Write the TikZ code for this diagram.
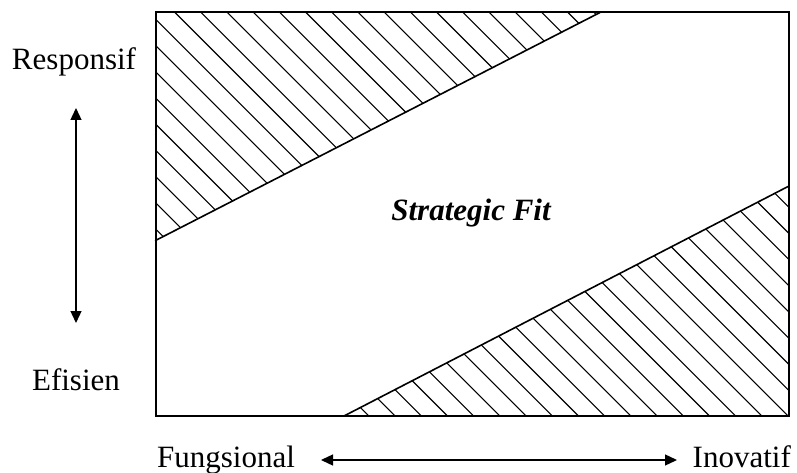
\documentclass[tikz,border=0pt]{standalone}
\usepackage{fontspec}
\setmainfont{Liberation Serif}
\usetikzlibrary{arrows.meta}
\tikzset{
  box/.style={
    line width=2pt,
    line join=miter
  },
  cutline/.style={line width=1.6pt, line cap=round},
  hatch/.style={line width=1.1pt},
  axislabel/.style={
    font=\fontsize{31}{37}\selectfont,
    inner sep=0pt
  },
  dblarrow/.style={
    line width=1.3pt,
    {Triangle[length=12pt,width=11pt]}-{Triangle[length=12pt,width=11pt]}
  }
}
\newcommand{\hatchlines}{%
  \foreach \k in {-10,...,17} {
    \draw[hatch] ({162.5+26.2*\k},0) -- ++(520,520);
  }
}

\begin{document}
\begin{tikzpicture}[x=1pt,y=-1pt]
  \useasboundingbox (0,0) rectangle (797,473);
  % corners of the field
  \coordinate (tl) at (155.5,12.5);
  \coordinate (tr) at (789,12.5);
  \coordinate (br) at (789,416);
  \coordinate (bl) at (155.5,416);
  \coordinate (upA) at (600,12.5);
  \coordinate (upB) at (155.5,240.5);
  \coordinate (loA) at (789,186);
  \coordinate (loB) at (344,416);
  % hatched corners
  \begin{scope}
    \clip (tl) -- (upA) -- (upB) -- cycle;
    \hatchlines
  \end{scope}
  \begin{scope}
    \clip (br) -- (loA) -- (loB) -- cycle;
    \hatchlines
  \end{scope}
  \draw[cutline] (upA) -- (upB);
  \draw[cutline] (loA) -- (loB);
  \draw[box] (tl) rectangle (br);
  \node[axislabel, anchor=base, font=\fontsize{31}{37}\selectfont\bfseries\itshape]
    (fit) at (471,220) {Strategic Fit};
  % labels and axes
  \node[axislabel, anchor=base] (resp) at (74,70) {Responsif};
  \node[axislabel, anchor=base] (efis) at (76,390) {Efisien};
  \node[axislabel, anchor=base west] (fung) at (157,467) {Fungsional};
  \node[axislabel, anchor=base east] (inov) at (791,467) {Inovatif};
  \coordinate (vTop) at (76,108);
  \coordinate (vBot) at (76,323);
  \coordinate (hLeft) at (321,460);
  \coordinate (hRight) at (677,460);
  \draw[dblarrow] (vTop) -- (vBot);
  \draw[dblarrow] (hLeft) -- (hRight);
\end{tikzpicture}
\end{document}
